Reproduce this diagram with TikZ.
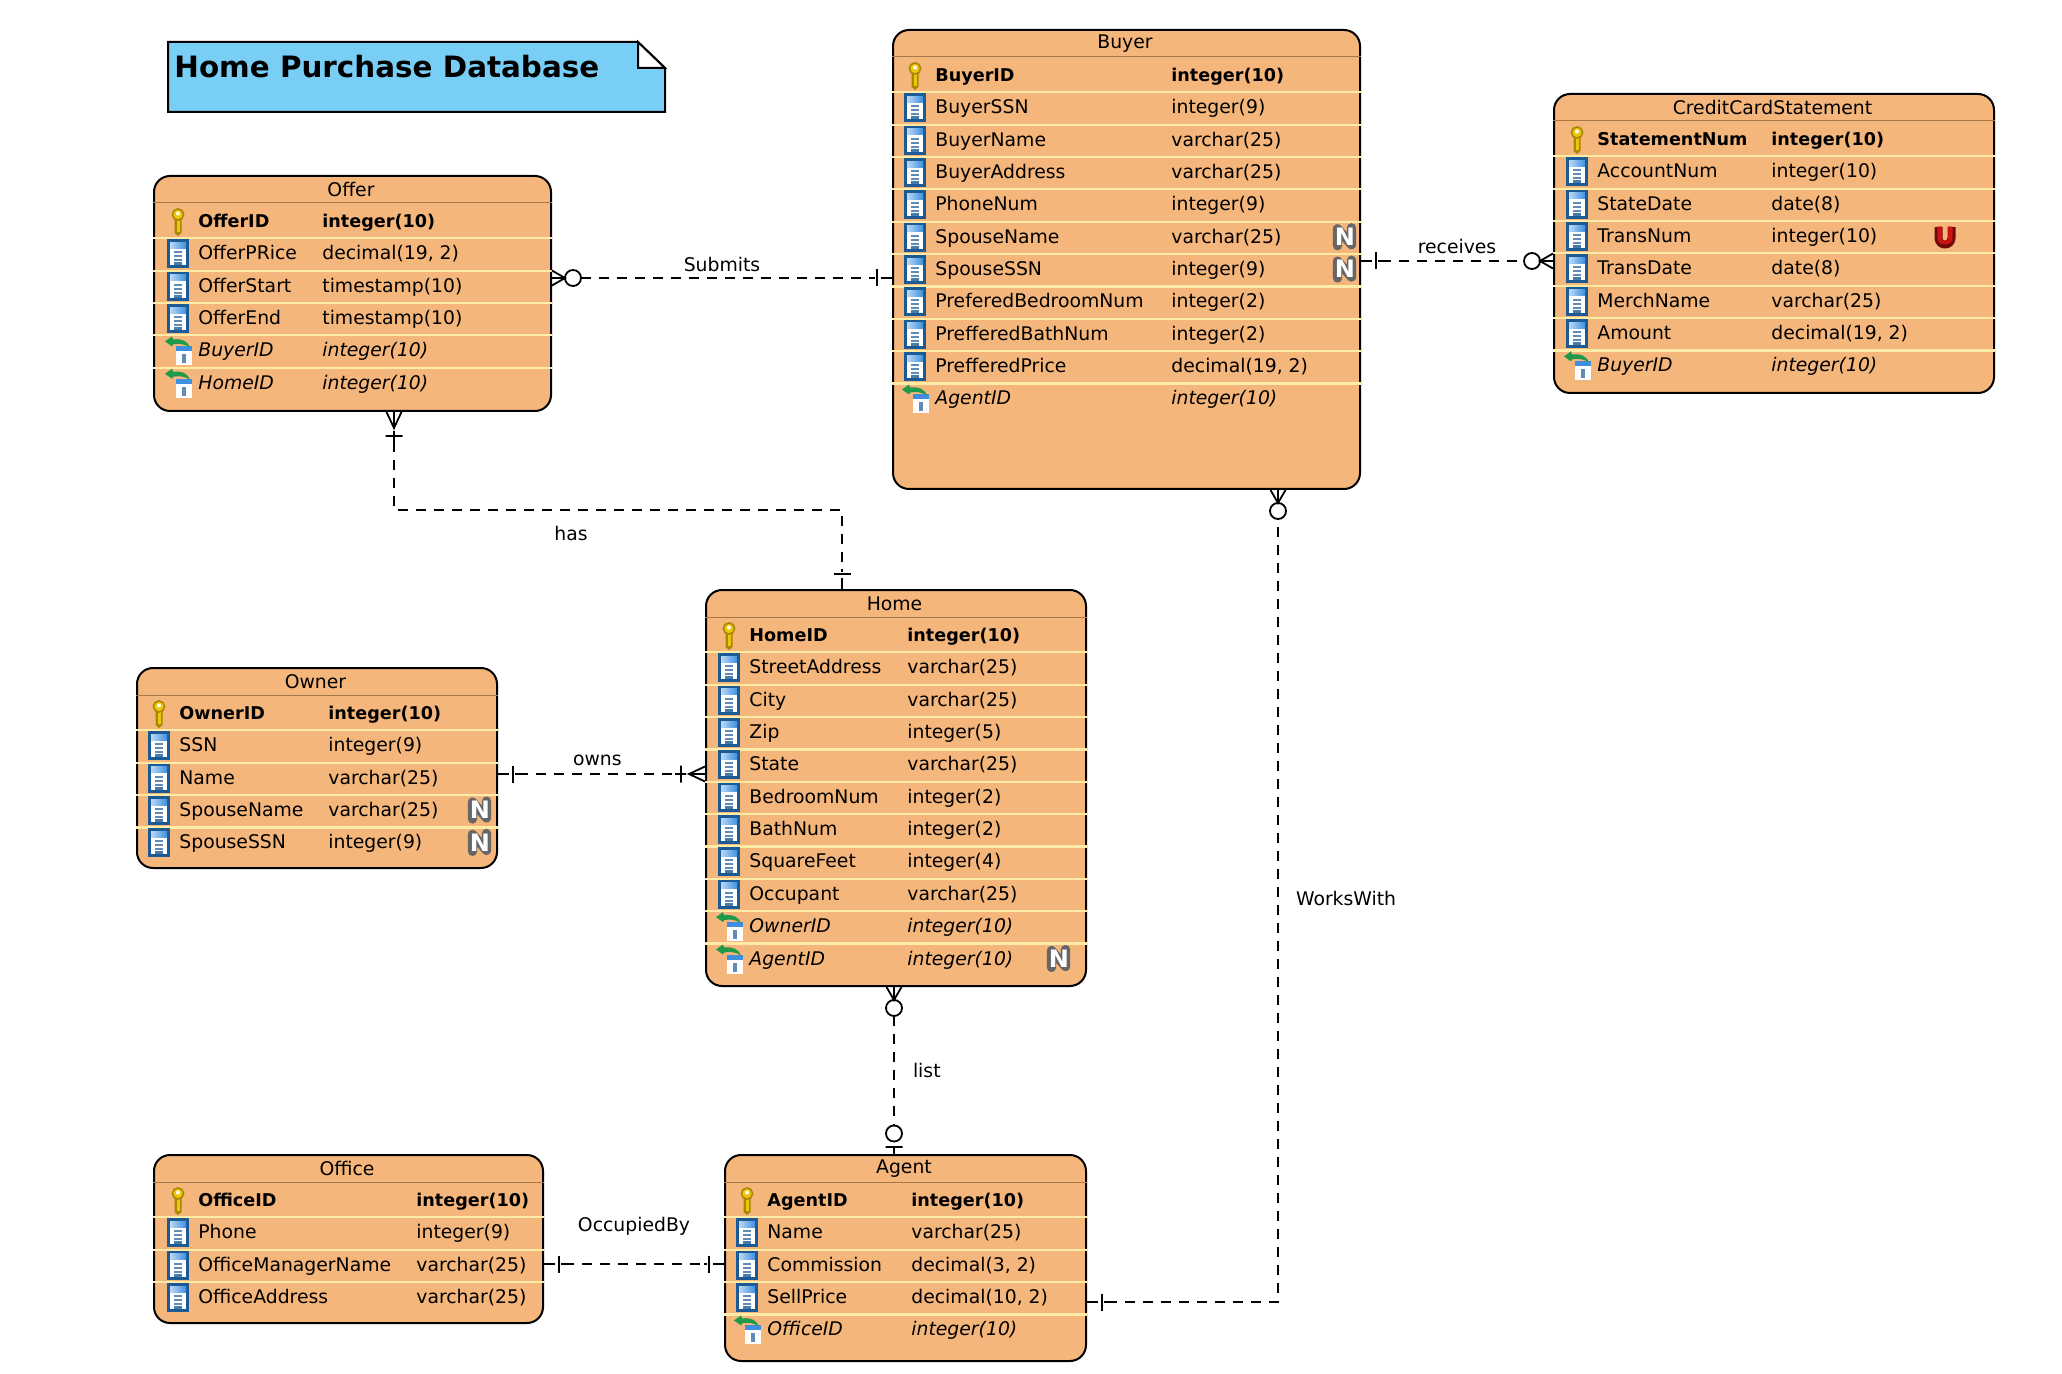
\documentclass[tikz,border=0pt]{standalone}
\usepackage{fontspec}
\setmainfont{DejaVu Sans}
\usepackage{xcolor}
\definecolor{entityfill}{HTML}{F5B67B}
\definecolor{rowline}{HTML}{FDECA8}
\definecolor{headline}{HTML}{A87848}
\definecolor{notefill}{HTML}{79CEF6}
\definecolor{keygold}{HTML}{EFC60E}
\definecolor{keyedge}{HTML}{A88800}
\definecolor{coledge}{HTML}{1C5A96}
\definecolor{colhead}{HTML}{3F8FE0}
\definecolor{fkgreen}{HTML}{1F9A4A}
\definecolor{uniquered}{HTML}{CC1212}
\usetikzlibrary{arrows.meta, positioning, fit, calc}

% crow's foot ends, drawn back from the tip at x=0
\newcommand{\crowfoot}[1]{%
  \pgfpathmoveto{\pgfqpoint{0pt}{3.75pt}}\pgfpathlineto{\pgfqpoint{-#1}{0pt}}%
  \pgfpathlineto{\pgfqpoint{0pt}{-3.75pt}}%
  \pgfpathmoveto{\pgfqpoint{0pt}{0pt}}\pgfpathlineto{\pgfqpoint{-#1}{0pt}}}
\newcommand{\crowbar}[1]{%
  \pgfpathmoveto{\pgfqpoint{-#1}{4.25pt}}\pgfpathlineto{\pgfqpoint{-#1}{-4.25pt}}}
\newcommand{\crowstem}[2]{%
  \pgfpathmoveto{\pgfqpoint{-#1}{0pt}}\pgfpathlineto{\pgfqpoint{-#2}{0pt}}}
\newcommand{\crowring}[1]{\pgfpathcircle{\pgfqpoint{-#1}{0pt}}{4pt}}
\newcommand{\crowtip}[3]{%
  \pgfdeclarearrow{name=#1,
    setup code={\pgfarrowssettipend{0pt}\pgfarrowssetlineend{-#2}%
      \pgfarrowssetbackend{-#2}\pgfarrowssetvisualbackend{-#2}},
    drawing code={\pgfsetlinewidth{0.9pt}\pgfsetdash{}{0pt}#3\pgfusepathqstroke}}}
\crowtip{oneonly}{10pt}{\crowstem{0pt}{5.5pt}\crowstem{8.5pt}{10pt}\crowbar{7.5pt}}
\crowtip{onemany}{15pt}{\crowfoot{8pt}\crowbar{12pt}\crowstem{9.5pt}{15pt}}
\crowtip{zeromany}{14.5pt}{\crowfoot{6.5pt}\crowring{10.5pt}}
\crowtip{zeroone}{14.5pt}{\crowstem{0pt}{3.5pt}\crowbar{3.5pt}\crowring{10.25pt}}

\tikzstyle{entity} = [
  rectangle, rounded corners=8pt, inner sep=0pt,
  draw=black, line width=1pt, fill=entityfill
]
\tikzstyle{entitytitle} = [font=\fontsize{9.4}{11}\selectfont, inner sep=0pt]
\tikzstyle{fieldtext} = [
  anchor=west, inner sep=0pt, text height=7pt, text depth=2pt
]
\tikzstyle{relation} = [
  line width=1pt, dash pattern=on 5pt off 4pt, color=black
]
\tikzstyle{rellabel} = [font=\fontsize{9.4}{11}\selectfont, inner sep=0pt]

\tikzset{
  % table icons, origin on the row coordinate
  keyicon/.pic={
    \fill[keyedge] (-3.5,-8) rectangle (3.5,9) -- (0,12) -- (-3.5,9);
    \fill[keygold] (-1.5,-6) rectangle (1.5,8);
    \filldraw[draw=keyedge, fill=keygold, line width=0.8pt] (0,-9.5) circle (5.6);
    \fill[white] (0,-10.5) circle (2);
  },
  colicon/.pic={
    \fill[coledge] (-11,-17) rectangle (11,12);
    \fill[white] (-8,-8) rectangle (8,9);
    \shade[left color=colhead!35, right color=colhead] (-8,-14) rectangle (8,-8);
    \foreach \ty in {-5,-1,3} \fill[coledge!70] (-4,\ty) rectangle (4,\ty+2);
    \fill[coledge!80] (-4,6) rectangle (4,9);
  },
  fkicon/.pic={
    \fill[white] (-2,-7) rectangle (14,12);
    \fill[colhead] (-2,-7) rectangle (14,-2);
    \fill[coledge!70] (4,1) rectangle (8,10);
    \fill[fkgreen] (-13,-12) -- (-6,-17) -- (-5,-14) .. controls (4,-15) and (10,-12) .. (12,-6)
      .. controls (6,-10) and (0,-10) .. (-5,-9) -- (-6,-7) -- cycle;
  },
  nobadge/.pic={
    \draw[black!60, line width=4.6pt, line join=round, line cap=round]
      (-7.5,9) -- (-7.5,-8) -- (6.5,8) -- (6.5,-9);
    \node[inner sep=0pt, text=white, font=\fontsize{12}{13}\bfseries\selectfont] (nullmark) {N};
  },
  unbadge/.pic={
    \draw[uniquered!55!black, line width=4pt, line join=round]
      (-6.5,-9) -- (-6.5,2) arc[start angle=180, end angle=0, radius=6.5] -- (6.5,-9);
    \node[inner sep=0pt, text=uniquered, font=\fontsize{12}{13}\bfseries\selectfont] (uniquemark) {U};
  }
}

\newcommand{\fieldfont}[1]{%
  \ifnum\pdfstrcmp{#1}{key}=0 \fontsize{8.8}{11}\selectfont\bfseries\else
    \fontsize{9.4}{11}\selectfont\fi
  \ifnum\pdfstrcmp{#1}{fk}=0 \itshape\fi}

% #1 id, #2 title, #3 top left, #4 bottom right, #5 name column, #6 type column, #7 badge column, #8 rows
\newcommand{\entitytable}[8]{
  \node[entity, fit={(#3)(#4)}] (#1) {};
  \node[entitytitle] (#1title) at ($(#1.north)+(-1.5,14.5)$) {#2};
  \draw[headline, line width=0.5pt] ($(#1.north west)+(0,28)$) -- ($(#1.north east)+(0,28)$);
  \foreach \kind/\fname/\ftype/\fmark [count=\i from 0] in {#8} {
    \coordinate (#1row) at ($(#1.north west)+(0,47.5+32.35*\i)$);
    \ifnum\i>0
      \draw[rowline, line width=1.1pt] ($(#1row)+(0,-16.5)$) -- ($(#1row -| #1.east)+(0,-16.5)$);
    \fi
    \pic at ($(#1row)+(#5-20,1.5)$) {\kind icon};
    \node[fieldtext, font=\fieldfont{\kind}] (#1name\i) at ($(#1row)+(#5,0)$) {\fname};
    \node[fieldtext, font=\fieldfont{\kind}] (#1type\i) at ($(#1row)+(#6,0)$) {\ftype};
    \if\fmark n \pic at ($(#1row)+(#7,-1.5)$) {nobadge}; \fi
    \if\fmark u \pic at ($(#1row)+(#7,-1.5)$) {unbadge}; \fi
  }
}

\begin{document}
\begin{tikzpicture}[x=0.5pt, y=-0.5pt]
  \useasboundingbox (0,0) rectangle (2062,1374);

  % title note
  \draw[fill=notefill, line width=1pt] (168,42) -- (638,42) -- (665,68) -- (665,112) -- (168,112) -- cycle;
  \draw[fill=white, line width=1pt] (638,42) -- (665,68) -- (638,68) -- cycle;
  \node[anchor=west, inner sep=0pt, font=\fontsize{14.7}{16}\bfseries\selectfont] (notetitle) at (174,67) {Home Purchase Database};

  \entitytable{offer}{Offer}{154,176}{551,411}{45}{169}{0}{
    key/OfferID/integer(10)/-, col/OfferPRice/{decimal(19, 2)}/-,
    col/OfferStart/timestamp(10)/-, col/OfferEnd/timestamp(10)/-,
    fk/BuyerID/integer(10)/-, fk/HomeID/integer(10)/-}

  \entitytable{buyer}{Buyer}{893,30}{1360,489}{43}{279}{453}{
    key/BuyerID/integer(10)/-, col/BuyerSSN/integer(9)/-,
    col/BuyerName/varchar(25)/-, col/BuyerAddress/varchar(25)/-,
    col/PhoneNum/integer(9)/-, col/SpouseName/varchar(25)/n,
    col/SpouseSSN/integer(9)/n, col/PreferedBedroomNum/integer(2)/-,
    col/PrefferedBathNum/integer(2)/-, col/PrefferedPrice/{decimal(19, 2)}/-,
    fk/AgentID/integer(10)/-}

  \entitytable{credit}{CreditCardStatement}{1554,94}{1994,393}{44}{218}{392}{
    key/StatementNum/integer(10)/-, col/AccountNum/integer(10)/-,
    col/StateDate/date(8)/-, col/TransNum/integer(10)/u,
    col/TransDate/date(8)/-, col/MerchName/varchar(25)/-,
    col/Amount/{decimal(19, 2)}/-, fk/BuyerID/integer(10)/-}

  \entitytable{home}{Home}{706,590}{1086,986}{44}{202}{354}{
    key/HomeID/integer(10)/-, col/StreetAddress/varchar(25)/-,
    col/City/varchar(25)/-, col/Zip/integer(5)/-, col/State/varchar(25)/-,
    col/BedroomNum/integer(2)/-, col/BathNum/integer(2)/-,
    col/SquareFeet/integer(4)/-, col/Occupant/varchar(25)/-,
    fk/OwnerID/integer(10)/-, fk/AgentID/integer(10)/n}

  \entitytable{owner}{Owner}{137,668}{497,868}{43}{192}{344}{
    key/OwnerID/integer(10)/-, col/SSN/integer(9)/-, col/Name/varchar(25)/-,
    col/SpouseName/varchar(25)/n, col/SpouseSSN/integer(9)/n}

  \entitytable{office}{Office}{154,1155}{543,1323}{45}{263}{0}{
    key/OfficeID/integer(10)/-, col/Phone/integer(9)/-,
    col/OfficeManagerName/varchar(25)/-, col/OfficeAddress/varchar(25)/-}

  \entitytable{agent}{Agent}{725,1155}{1086,1361}{43}{187}{0}{
    key/AgentID/integer(10)/-, col/Name/varchar(25)/-,
    col/Commission/{decimal(3, 2)}/-, col/SellPrice/{decimal(10, 2)}/-,
    fk/OfficeID/integer(10)/-}

  % relationships
  \coordinate (submitsline) at (0,278);
  \coordinate (receivesline) at (0,261);
  \coordinate (hasleft) at (394,510);
  \coordinate (hasright) at (842,510);
  \coordinate (ownsline) at (0,774);
  \coordinate (listline) at (894,0);
  \coordinate (occupiedline) at (0,1264);
  \coordinate (workscorner) at (1278,1302);

  \draw[relation, arrows={zeromany[]-oneonly[]}] (offer.east |- submitsline) --
    node[rellabel, above=2.5pt] (submitslabel) {Submits} (buyer.west |- submitsline);
  \draw[relation, arrows={oneonly[]-zeromany[]}] (buyer.east |- receivesline) --
    node[rellabel, above=3pt] (receiveslabel) {receives} (credit.west |- receivesline);
  \draw[relation, arrows={onemany[]-oneonly[]}] (offer.south -| hasleft) -- (hasleft) --
    node[rellabel, below=7.5pt, pos=0.395] (haslabel) {has} (hasright) -- (home.north -| hasright);
  \draw[relation, arrows={oneonly[]-onemany[]}] (owner.east |- ownsline) --
    node[rellabel, above=3.5pt, pos=0.48] (ownslabel) {owns} (home.west |- ownsline);
  \draw[relation, arrows={zeromany[]-zeroone[]}] (home.south -| listline) --
    node[rellabel, right=9pt] (listlabel) {list} (agent.north -| listline);
  \draw[relation, arrows={oneonly[]-oneonly[]}] (office.east |- occupiedline) --
    node[rellabel, above=14pt] (occupiedlabel) {OccupiedBy} (agent.west |- occupiedline);
  \draw[relation, arrows={oneonly[]-zeromany[]}] (agent.east |- workscorner) -- (workscorner) --
    node[rellabel, right=8.5pt, pos=0.497] (workslabel) {WorksWith} (buyer.south -| workscorner);
\end{tikzpicture}
\end{document}
